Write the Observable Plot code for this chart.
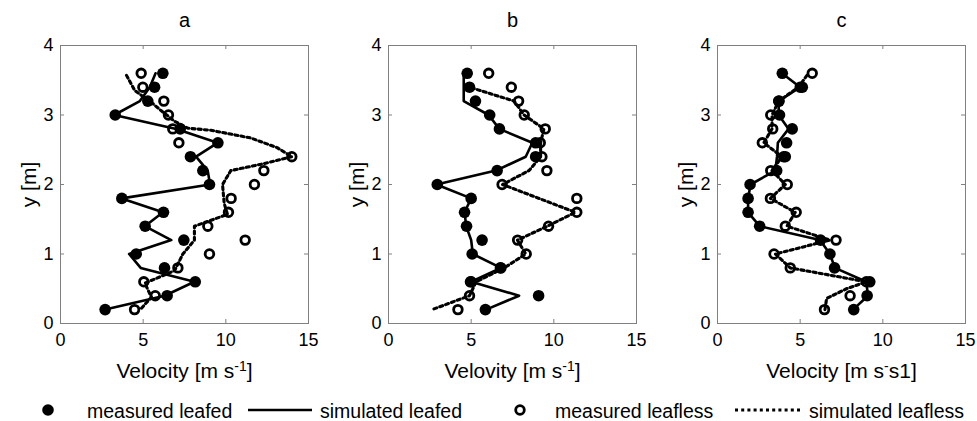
<!DOCTYPE html>
<html>
<head>
<meta charset="utf-8">
<script src="https://cdn.jsdelivr.net/npm/d3@7"></script>
<script src="https://cdn.jsdelivr.net/npm/@observablehq/plot@0.6"></script>
<style>
  html, body { margin: 0; padding: 0; background: #fff; overflow: hidden; }
  body { font-family: "Liberation Sans", Arial, sans-serif; }
  #wrap { position: relative; width: 977px; height: 421px; }
  .panel { position: absolute; top: 0; }
  #legend { position: absolute; left: 0; top: 388px; overflow: visible; }
  #legend text { font-family: "Liberation Sans", Arial, sans-serif; font-size: 19.5px; fill: #000; }
</style>
</head>
<body>
<div id="wrap">
  <div class="panel" id="pa" style="left:0px"></div>
  <div class="panel" id="pb" style="left:328px"></div>
  <div class="panel" id="pc" style="left:657px"></div>
  <svg id="legend" width="977" height="33">
    <circle cx="48" cy="22" r="5.8" fill="#000"></circle>
    <text x="87" y="29.5">measured leafed</text>
    <line x1="248" x2="312" y1="22" y2="22" stroke="#000" stroke-width="2.6"></line>
    <text x="320" y="29.5">simulated leafed</text>
    <circle cx="520" cy="22" r="4.3" fill="none" stroke="#000" stroke-width="2.8"></circle>
    <text x="555" y="29.5">measured leafless</text>
    <line x1="735" x2="800" y1="22" y2="22" stroke="#000" stroke-width="3.1" stroke-dasharray="3,3.2"></line>
    <text x="809" y="29.5">simulated leafless</text>
  </svg>
</div>
<script>
// ---- axes ----
const xTicks = [0, 5, 10, 15];
const yTicks = [0, 1, 2, 3, 4];
const xInnerTicks = [5, 10];
const yInnerTicks = [1, 2, 3];
const panelTitles = ["a", "b", "c"];

// measurement heights (m)
const heights = [0.2, 0.4, 0.6, 0.8, 1.0, 1.2, 1.4, 1.6, 1.8, 2.0, 2.2, 2.4, 2.6, 2.8, 3.0, 3.2, 3.4, 3.6];

// ---- panel a ----
const aMeasLeafed   = [2.70, 6.45, 8.15, 6.29, 4.58, 7.46, 5.12, 6.23, 3.71, 9.01, 8.61, 7.86, 9.52, 7.24, 3.31, 5.28, 5.69, 6.19];
const aSimLeafed    = [2.7, 6.3, 8.1, 4.85, 4.15, 6.7, 5.1, 6.2, 3.7, 9.05, 8.9, 8.2, 9.5, 7.0, 3.25, 4.8, 5.4, 5.75];
const aMeasLeafless = [4.48, 5.73, 5.04, 7.10, 9.01, 11.17, 8.91, 10.16, 10.32, 11.73, 12.30, 13.99, 7.16, 6.79, 6.53, 6.25, 4.98, 4.88];
const aSimLeaflessV = [4.9, 5.5, 5.1, 6.9, 7.4, 8.1, 8.1, 10.1, 9.9, 9.8, 10.3, 12.3, 14.0, 13.1, 11.5, 9.1, 7.7, 6.9, 6.1, 5.5, 4.5, 3.97];
const aSimLeaflessY = [0.22, 0.38, 0.58, 0.76, 1.0, 1.2, 1.4, 1.57, 1.73, 2.0, 2.2, 2.3, 2.4, 2.53, 2.67, 2.78, 2.81, 2.91, 3.06, 3.18, 3.35, 3.58];

// ---- panel b ----
const bMeasLeafed   = [5.86, 9.08, 4.96, 6.77, 5.06, 5.66, 4.72, 4.60, 5.00, 2.95, 6.57, 8.90, 8.90, 6.71, 6.12, 5.26, 4.90, 4.76];
const bSimLeafed    = [5.9, 7.9, 5.0, 6.8, 5.1, 5.0, 4.7, 4.6, 5.0, 2.9, 6.5, 8.3, 8.7, 6.7, 6.06, 4.55, 4.55, 4.55];
const bMeasLeafless = [4.20, 4.90, 5.00, 6.80, 8.33, 7.81, 9.68, 11.39, 11.39, 6.87, 9.58, 9.28, 9.18, 9.48, 8.21, 7.87, 7.43, 6.06];
const bSimLeaflessV = [2.75, 4.9, 5.3, 7.0, 8.3, 7.8, 9.6, 11.3, 6.9, 8.5, 9.2, 9.2, 9.4, 8.2, 7.6, 4.9];
const bSimLeaflessY = [0.21, 0.4, 0.6, 0.8, 1.0, 1.2, 1.4, 1.6, 2.0, 2.2, 2.4, 2.6, 2.8, 3.0, 3.2, 3.4];

// ---- panel c ----
const cMeasLeafed   = [8.24, 9.05, 9.21, 7.08, 6.80, 6.23, 2.55, 1.85, 1.85, 1.97, 3.58, 4.10, 4.18, 4.52, 3.75, 3.72, 5.13, 3.92];
const cSimLeafed    = [8.2, 9.1, 9.0, 7.1, 6.8, 6.2, 2.55, 1.85, 1.85, 2.0, 3.5, 3.6, 3.65, 4.3, 3.7, 3.7, 5.0, 3.9];
const cMeasLeafless = [6.47, 8.02, 9.00, 4.40, 3.42, 7.17, 4.10, 4.76, 3.20, 4.22, 3.22, 4.00, 2.71, 3.34, 3.22, 3.70, 5.00, 5.73];
const cSimLeaflessV = [6.5, 6.6, 7.8, 9.0, 4.4, 3.5, 6.8, 4.2, 4.7, 3.2, 4.1, 3.3, 3.9, 2.8, 3.3, 3.3, 3.7, 4.9, 5.5];
const cSimLeaflessY = [0.2, 0.36, 0.5, 0.6, 0.8, 1.0, 1.2, 1.4, 1.6, 1.8, 2.0, 2.2, 2.4, 2.6, 2.8, 3.0, 3.2, 3.4, 3.6];

// x-axis label pieces (base text, superscript, trailing text)
const xLabels = [
  ["Velocity [m s", "-1", "]"],
  ["Velovity [m s", "-1", "]"],
  ["Velocity [m s", "-", "s1]"]
];
const yLabel = "y [m]";

const toPts = (vals, ys) => vals.map((v, i) => ({v, y: ys[i]}));
const FONT = "Liberation Sans, Arial, sans-serif";
const GREY = "#808080";

function makePanel(idx, measLeafed, simLeafed, measLeafless, simLV, simLY, width, marginRight) {
  const H = 392, mT = 45, mB = 69, mL = 60;
  const plotW = width - mL - marginRight, plotH = H - mT - mB;
  const [pre, sup, post] = xLabels[idx];
  const full = pre + sup + post;
  const chart = Plot.plot({
    width, height: H, marginTop: mT, marginBottom: mB, marginLeft: mL, marginRight,
    style: {fontFamily: FONT, fontSize: "18px", color: "#000", background: "#fff", overflow: "visible"},
    x: {domain: [0, 15]},
    y: {domain: [0, 4]},
    marks: [
      Plot.frame({stroke: GREY, strokeWidth: 1}),
      Plot.tickX(xInnerTicks, {x: d => d, insetTop: plotH - 4, stroke: GREY}),
      Plot.tickX(xInnerTicks, {x: d => d, insetBottom: plotH - 4, stroke: GREY}),
      Plot.tickY(yInnerTicks, {y: d => d, insetRight: plotW - 4, stroke: GREY}),
      Plot.tickY(yInnerTicks, {y: d => d, insetLeft: plotW - 4, stroke: GREY}),
      Plot.axisX(xTicks, {tickSize: 0, tickPadding: 10, fontSize: 18, label: null, tickFormat: d => String(d)}),
      Plot.axisY(yTicks, {tickSize: 0, tickPadding: 7, fontSize: 18, label: null, tickFormat: d => String(d)}),
      Plot.line(toPts(simLeafed, heights), {x: "v", y: "y", stroke: "#000", strokeWidth: 2.6}),
      Plot.line(toPts(simLV, simLY), {x: "v", y: "y", stroke: "#000", strokeWidth: 3.1, strokeDasharray: "3,3.2"}),
      Plot.dot(toPts(measLeafed, heights), {x: "v", y: "y", r: 5.8, fill: "#000", stroke: "none"}),
      Plot.dot(toPts(measLeafless, heights), {x: "v", y: "y", r: 4.3, fill: "none", stroke: "#000", strokeWidth: 2.8}),
      Plot.text([panelTitles[idx]], {text: d => d, frameAnchor: "top", lineAnchor: "bottom", textAnchor: "middle", dy: -19, fontSize: 20}),
      Plot.text([full], {text: d => d, frameAnchor: "bottom", lineAnchor: "bottom", textAnchor: "middle", dy: 54, fontSize: 21}),
      Plot.text([yLabel], {text: d => d, frameAnchor: "left", lineAnchor: "middle", textAnchor: "middle", rotate: -90, dx: -31, fontSize: 21})
    ]
  });
  // turn the exponent into a raised superscript
  chart.querySelectorAll("text").forEach(t => {
    if (t.textContent === full && t.children.length === 0) {
      t.textContent = "";
      const ns = "http://www.w3.org/2000/svg";
      const a = document.createElementNS(ns, "tspan"); a.textContent = pre;
      const b = document.createElementNS(ns, "tspan"); b.textContent = sup;
      b.setAttribute("dy", "-7"); b.setAttribute("font-size", "14");
      const c = document.createElementNS(ns, "tspan"); c.textContent = post;
      c.setAttribute("dy", "7");
      t.append(a, b, c);
    }
  });
  return chart;
}

document.getElementById("pa").append(makePanel(0, aMeasLeafed, aSimLeafed, aMeasLeafless, aSimLeaflessV, aSimLeaflessY, 328, 20));
document.getElementById("pb").append(makePanel(1, bMeasLeafed, bSimLeafed, bMeasLeafless, bSimLeaflessV, bSimLeaflessY, 328, 20));
document.getElementById("pc").append(makePanel(2, cMeasLeafed, cSimLeafed, cMeasLeafless, cSimLeaflessV, cSimLeaflessY, 317, 9));
</script>
</body>
</html>
